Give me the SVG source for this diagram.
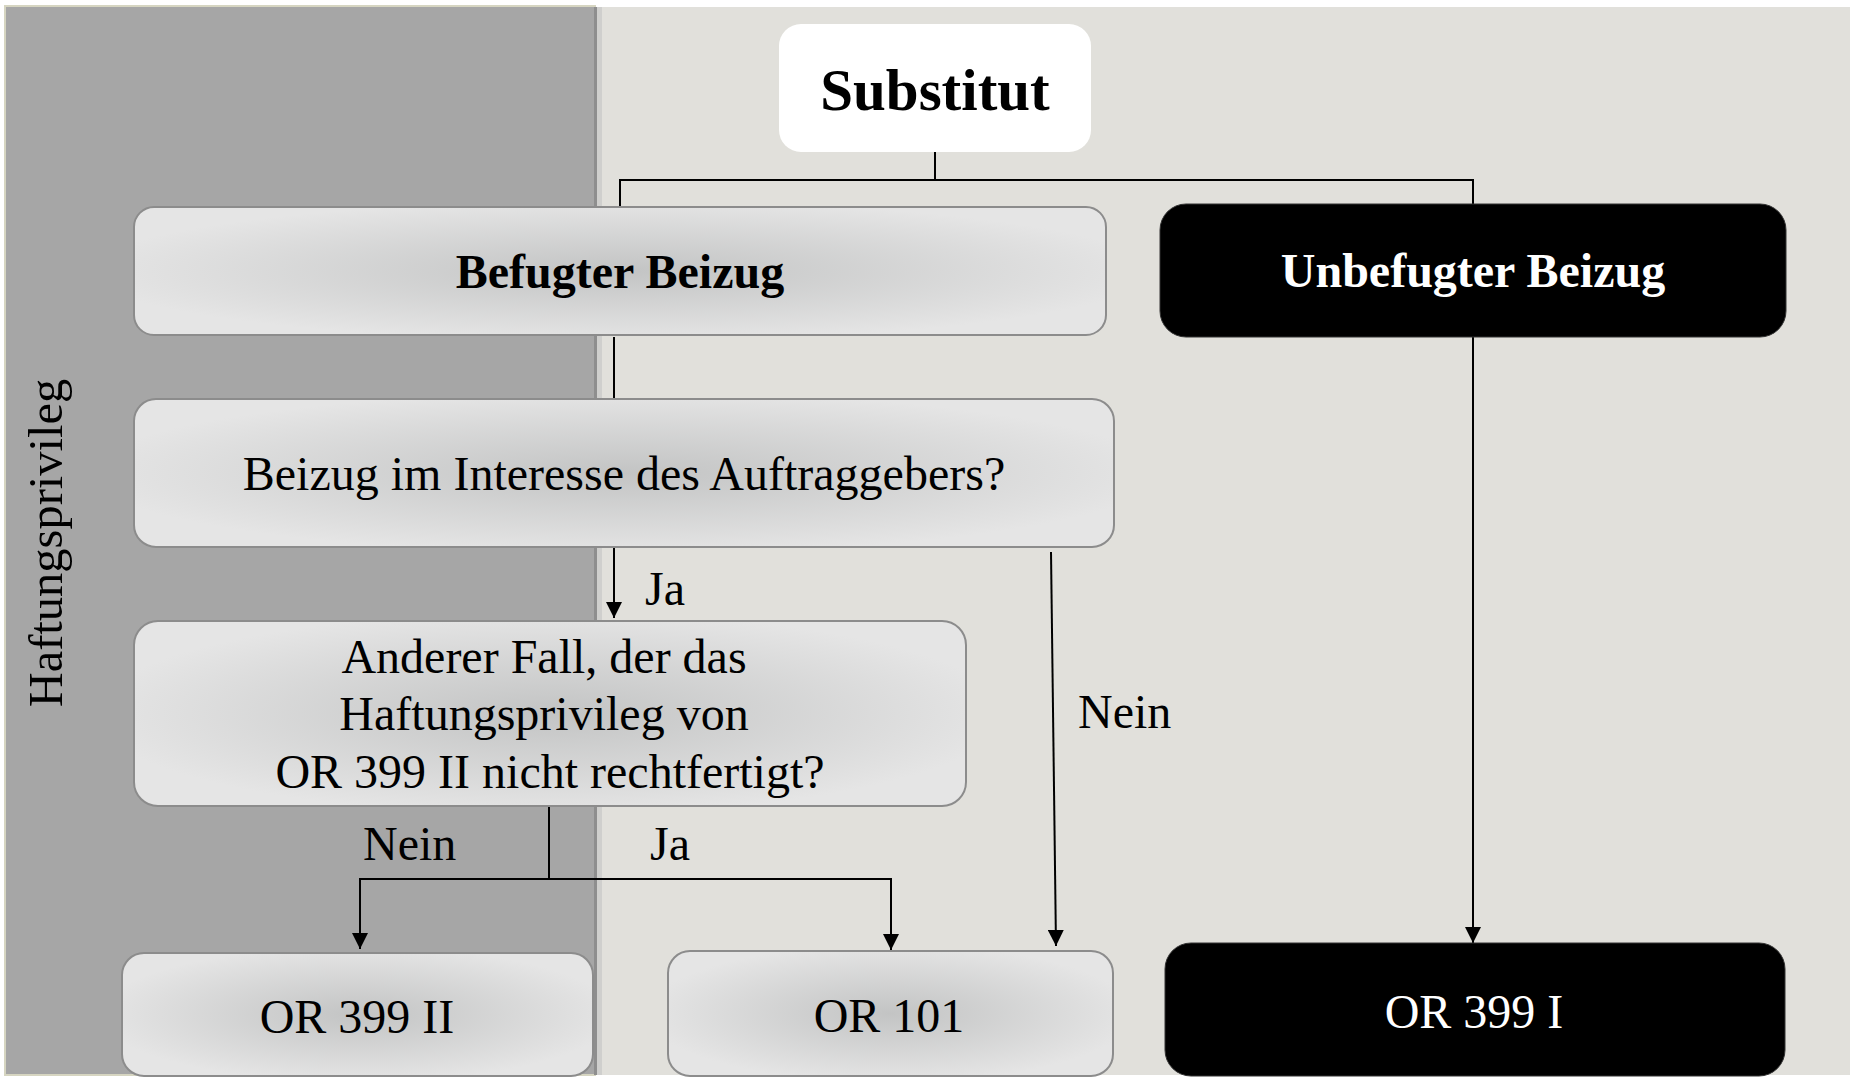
<svg xmlns="http://www.w3.org/2000/svg" width="1856" height="1077" viewBox="0 0 1856 1077">
<style>
.t{font-family:"Liberation Serif","Times New Roman",serif;font-size:48px;fill:#000}
.b{font-weight:bold}
.w{fill:#fff}
.c{text-anchor:middle}
.box{fill:url(#g);stroke:#8c8c8c;stroke-width:2}
.blk{fill:#000;stroke:#333;stroke-width:1}
.ln{fill:none;stroke:#000;stroke-width:2}
</style>
<defs>
<radialGradient id="g" cx="50%" cy="50%" r="55%">
<stop offset="0" stop-color="#c3c4c4"/>
<stop offset="1" stop-color="#e5e5e5"/>
</radialGradient>
<marker id="ar" markerUnits="userSpaceOnUse" markerWidth="16" markerHeight="16" refX="14" refY="7" orient="auto" viewBox="0 0 14 14">
<path d="M0,0 L14,7 L0,14 z" fill="#000"/>
</marker>
</defs>
<rect width="1856" height="1077" fill="#fff"/>
<g id="panels">
<rect x="5" y="6" width="590" height="1069" fill="#a6a6a6" stroke="#d6d5c1" stroke-width="2"/>
<rect x="597" y="7" width="1253" height="1068" fill="#e1e0db"/>
<rect x="594" y="7" width="3" height="1068" fill="#8e8e8e"/>
<rect x="597" y="7" width="5" height="1068" fill="#cfcfcd"/>
<text class="t c" transform="translate(62,543) rotate(-90)" style="font-size:48.5px">Haftungsprivileg</text>
</g>
<g id="connectors">
<path class="ln" d="M935,152 V180 M620,207 V180 H1473 V204"/>
<path class="ln" d="M614,337 V399"/>
<path class="ln" d="M614,547 V618" marker-end="url(#ar)"/>
<path class="ln" d="M1051,552 L1056,946" marker-end="url(#ar)"/>
<path class="ln" d="M549,806 V879"/>
<path class="ln" d="M549,879 H360 V949" marker-end="url(#ar)"/>
<path class="ln" d="M549,879 H891 V950" marker-end="url(#ar)"/>
<path class="ln" d="M1473,337 V943" marker-end="url(#ar)"/>
<text class="t" x="645" y="605">Ja</text>
<text class="t" x="1078" y="728">Nein</text>
<text class="t" x="363" y="860">Nein</text>
<text class="t" x="650" y="860">Ja</text>
</g>
<g id="substitut">
<rect x="779" y="24" width="312" height="128" rx="22" fill="#fff"/>
<text class="t b c" x="935" y="110" style="font-size:59px">Substitut</text>
</g>
<g id="befugter">
<rect class="box" x="134" y="207" width="972" height="128" rx="20"/>
<text class="t b c" x="620" y="288">Befugter Beizug</text>
</g>
<g id="unbefugter">
<rect class="blk" x="1160" y="204" width="626" height="133" rx="26"/>
<text class="t b c w" x="1473" y="287">Unbefugter Beizug</text>
</g>
<g id="interesse">
<rect class="box" x="134" y="399" width="980" height="148" rx="22"/>
<text class="t c" x="624" y="490">Beizug im Interesse des Auftraggebers?</text>
</g>
<g id="anderer">
<rect class="box" x="134" y="621" width="832" height="185" rx="24"/>
<text class="t c" x="544" y="673">Anderer Fall, der das</text>
<text class="t c" x="544" y="730">Haftungsprivileg von</text>
<text class="t c" x="550" y="788">OR 399 II nicht rechtfertigt?</text>
</g>
<g id="or399ii">
<rect class="box" x="122" y="953" width="471" height="123" rx="22"/>
<text class="t c" x="357" y="1033">OR 399 II</text>
</g>
<g id="or101">
<rect class="box" x="668" y="951" width="445" height="125" rx="22"/>
<text class="t c" x="889" y="1032">OR 101</text>
</g>
<g id="or399i">
<rect class="blk" x="1165" y="943" width="620" height="133" rx="26"/>
<text class="t c w" x="1474" y="1028">OR 399 I</text>
</g>
</svg>
